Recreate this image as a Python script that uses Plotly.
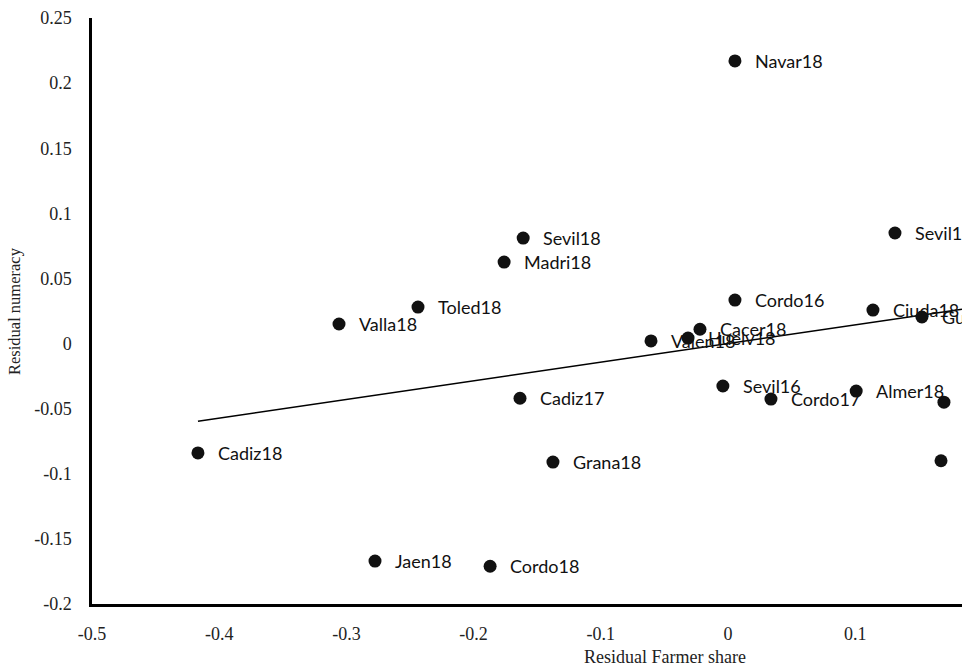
import plotly.graph_objects as go

# Data
names = ["Navar18", "Sevil18", "Madri18", "Toled18", "Valla18", "Cadiz18",
         "Cadiz17", "Grana18", "Jaen18", "Cordo18", "Valen18", "Huelv18",
         "Cacer18", "Cordo16", "Sevil16", "Cordo17", "Almer18", "Ciuda18",
         "Guada18", "Sevil17", "Malag18", "Badaj18"]
farmer_share = [0.0055, -0.161, -0.176, -0.2437, -0.3058, -0.4167,
                -0.1635, -0.1376, -0.2775, -0.187, -0.0605, -0.0314,
                -0.022, 0.0055, -0.004, 0.0338, 0.1008, 0.114,
                0.1525, 0.1313, 0.1698, 0.1675]
numeracy = [0.217, 0.081, 0.0626, 0.028, 0.015, -0.084,
            -0.042, -0.091, -0.167, -0.171, 0.002, 0.0042,
            0.011, 0.0334, -0.0326, -0.0426, -0.0365, 0.0257,
            0.0204, 0.0849, -0.045, -0.090]

# Linear trendline
trend_slope = 0.143
trend_intercept = 0.0

x_ticks = [-0.5, -0.4, -0.3, -0.2, -0.1, 0, 0.1]
x_tick_labels = ["-0.5", "-0.4", "-0.3", "-0.2", "-0.1", "0", "0.1"]
y_ticks = [-0.2, -0.15, -0.1, -0.05, 0, 0.05, 0.1, 0.15, 0.2, 0.25]
y_tick_labels = ["-0.2", "-0.15", "-0.1", "-0.05", "0", "0.05", "0.1", "0.15", "0.2", "0.25"]

x_range = [-0.5, 0.184]
y_range = [-0.2, 0.25]

serif = "Liberation Serif, Times New Roman, serif"
label_font = "Lato, Carlito, Calibri, sans-serif"

fig = go.Figure()

tx = [min(farmer_share), x_range[1]]
ty = [trend_intercept + trend_slope * v for v in tx]
fig.add_trace(go.Scatter(x=tx, y=ty, mode="lines",
                         line=dict(color="black", width=1.5),
                         hoverinfo="skip", showlegend=False))

fig.add_trace(go.Scatter(x=farmer_share, y=numeracy, mode="markers",
                         marker=dict(color="#111111", size=13),
                         showlegend=False))

for n, xv, yv in zip(names, farmer_share, numeracy):
    fig.add_annotation(x=xv, y=yv, xref="x", yref="y", text=n,
                       showarrow=False, xanchor="left", yanchor="middle",
                       xshift=18, font=dict(family=label_font, size=18, color="#111111"))

fig.add_annotation(x=(665 - 92) / 870, y=0, xref="paper", yref="paper",
                   text="Residual Farmer share", showarrow=False,
                   xanchor="center", yanchor="middle", yshift=-53,
                   font=dict(family=serif, size=18, color="#222222"))
fig.add_annotation(x=0, y=0.5, xref="paper", yref="paper",
                   text="Residual numeracy", showarrow=False, textangle=-90,
                   xanchor="center", yanchor="middle", xshift=-78,
                   font=dict(family=serif, size=16.5, color="#222222"))

fig.update_layout(
    width=962, height=669,
    margin=dict(l=92, r=0, t=18, b=65),
    plot_bgcolor="white", paper_bgcolor="white",
    xaxis=dict(range=x_range, tickvals=x_ticks, ticktext=x_tick_labels,
               showgrid=False, zeroline=False, showline=True,
               linecolor="black", linewidth=2.5, ticks="",
               ticklabelstandoff=12,
               tickfont=dict(family=serif, size=18, color="#222222")),
    yaxis=dict(range=y_range, tickvals=y_ticks, ticktext=y_tick_labels,
               showgrid=False, zeroline=False, showline=True,
               linecolor="black", linewidth=2.5, ticks="",
               ticklabelstandoff=14,
               tickfont=dict(family=serif, size=18, color="#222222")),
)

fig.write_html("out.html",
               config={"displayModeBar": False},
               post_script="document.body.style.margin='0';document.body.style.overflow='hidden';")
